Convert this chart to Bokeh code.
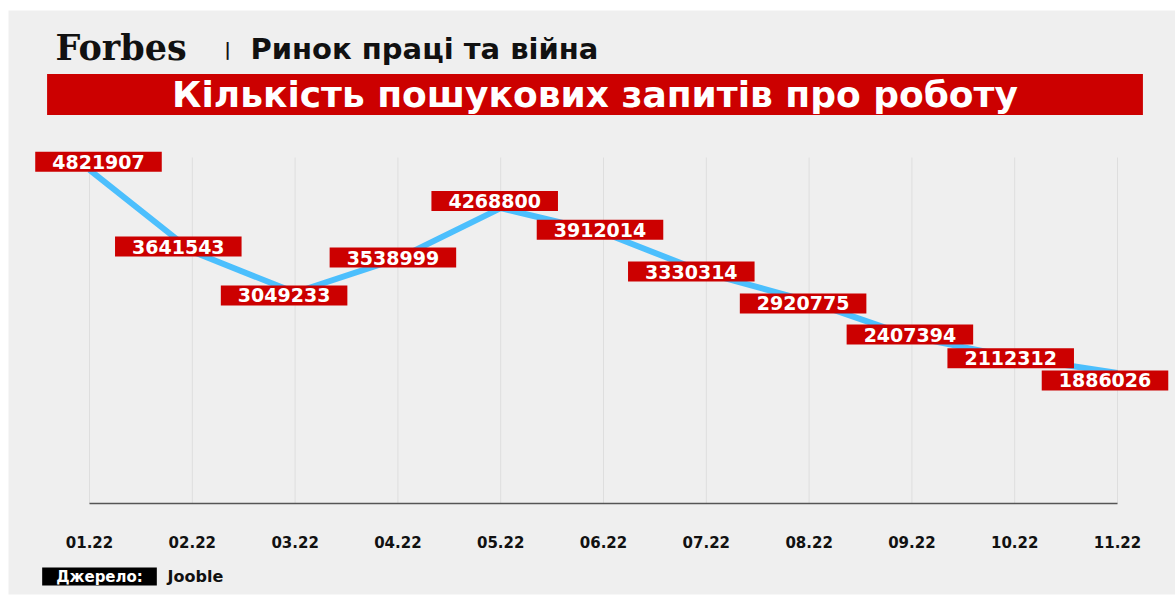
from bokeh.plotting import figure
from bokeh.models import Range1d, FixedTicker, Label, ColumnDataSource
from bokeh.core.properties import value
from bokeh.embed import file_html
from bokeh.resources import INLINE

# ---- data ----
months = ["01.22", "02.22", "03.22", "04.22", "05.22", "06.22",
          "07.22", "08.22", "09.22", "10.22", "11.22"]
searches = [4821907, 3641543, 3049233, 3538999, 4268800, 3912014,
            3330314, 2920775, 2407394, 2112312, 1886026]
y_top = 5_000_000  # top of the value axis

# label nudges (px) to mimic the reference label placement
label_dx = [9, -14, -11, -5, -6, -3.5, -15, -6, -2, -4, -12.5]
label_dy = [-8, -5, 3, -1, -7, -3, -1.5, 2, -2.4, 1, 7.5]

BG = "#efefef"
RED = "#cc0000"
LINE = "#4cbffd"
FONT = "DejaVu Sans"

# ---- layout (pixels) ----
W, H = 1175, 597
ML, MT, MR, MB = 8, 10, 0, 3          # white border around the grey panel
FW, FH = W - ML - MR, H - MT - MB     # grey panel (frame) size
PLOT_L, PLOT_R = 81, 1109             # frame x of first / last month
PLOT_T, PLOT_B = 147, 493             # frame y of y_top / zero


def sx(px):  # page x -> frame screen x
    return px - ML


def sy(py):  # page y -> frame screen y (from bottom)
    return MT + FH - py


xs = list(range(len(months)))
n = len(months) - 1
ux = (PLOT_R - PLOT_L) / n
uy = (PLOT_B - PLOT_T) / y_top

p = figure(width=W, height=H, output_backend="svg", toolbar_location=None,
           x_range=Range1d(-PLOT_L / ux, n + (FW - PLOT_R) / ux),
           y_range=Range1d(-(FH - PLOT_B) / uy, PLOT_B / uy),
           min_border_left=ML, min_border_top=MT, min_border_right=MR,
           min_border_bottom=MB, background_fill_color=BG,
           border_fill_color="white", outline_line_color=None)

p.yaxis.visible = False
p.grid.visible = False

ax = p.xaxis[0]
ax.fixed_location = 0
ax.bounds = (0, n)
ax.ticker = FixedTicker(ticks=xs)
ax.major_label_overrides = {i: m for i, m in zip(xs, months)}
ax.axis_line_color = "#555555"
ax.axis_line_width = 1.5
ax.major_tick_line_color = None
ax.minor_tick_line_color = None
ax.major_label_standoff = 26
ax.major_label_text_font = FONT
ax.major_label_text_font_style = "bold"
ax.major_label_text_font_size = "15px"
ax.major_label_text_color = "#111111"

src = ColumnDataSource(dict(x=xs, y=searches, txt=[str(v) for v in searches],
                            dx=label_dx, dy=label_dy,
                            y0=[0] * len(xs), y1=[y_top] * len(xs)))

# vertical grid lines
p.segment("x", "y0", "x", "y1", source=src, line_color="#dedede", line_width=1)

p.line("x", "y", source=src, line_color=LINE, line_width=6, line_join="round")

p.text("x", "y", text="txt", source=src, x_offset="dx", y_offset="dy",
       text_align="center", text_baseline="middle", text_color="white",
       text_font=value(FONT), text_font_style="bold", text_font_size="19px",
       background_fill_color=RED, padding=(17, 3))

# ---- header ----
p.add_layout(Label(x=sx(55), y=sy(47), x_units="screen", y_units="screen", text="Forbes",
                   text_font="DejaVu Serif", text_font_style="bold", text_font_size="35px",
                   text_color="#111111", text_baseline="middle"))
p.add_layout(Label(x=sx(227), y=sy(49), x_units="screen", y_units="screen", text="|",
                   text_font=FONT, text_font_style="bold", text_font_size="17px",
                   text_color="#111111", text_align="center", text_baseline="middle"))
p.add_layout(Label(x=sx(250), y=sy(48), x_units="screen", y_units="screen",
                   text="Ринок праці та війна", text_font=FONT, text_font_style="bold",
                   text_font_size="29px", text_color="#111111", text_baseline="middle"))
p.add_layout(Label(x=sx(594.5), y=sy(94), x_units="screen", y_units="screen",
                   text="Кількість пошукових запитів про роботу", text_font=FONT,
                   text_font_style="bold", text_font_size="36px", text_color="white",
                   text_align="center", text_baseline="middle",
                   background_fill_color=RED, padding=(125, 0)))

# ---- footer ----
p.add_layout(Label(x=sx(99), y=sy(576), x_units="screen", y_units="screen", text="Джерело:",
                   text_font=FONT, text_font_style="bold", text_font_size="15px",
                   text_color="white", text_align="center", text_baseline="middle",
                   background_fill_color="#000000", padding=(14, 0)))
p.add_layout(Label(x=sx(167), y=sy(576), x_units="screen", y_units="screen", text="Jooble",
                   text_font=FONT, text_font_style="bold", text_font_size="16px",
                   text_color="#111111", text_baseline="middle"))

open("out.html", "w").write(file_html(p, INLINE))
